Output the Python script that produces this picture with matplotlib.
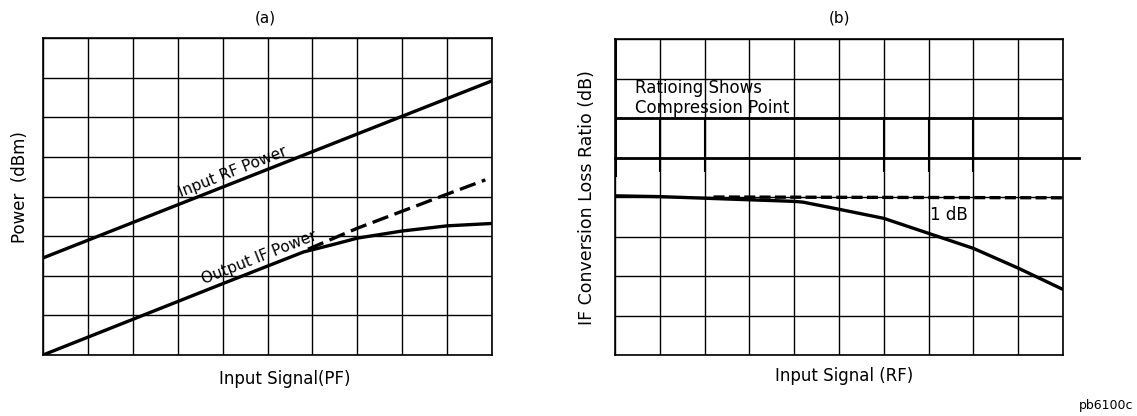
import numpy as np
import matplotlib
matplotlib.use("Agg")
from matplotlib import pyplot as plt

# (a) power curves, grid units (10 x 8 divisions)
rf_x = [0, 10]
rf_y = [2.45, 6.92]
if_x = [0, 2, 4, 5.8, 6.5, 7, 8, 9, 10]
if_y = [0, 0.9, 1.8, 2.6, 2.8, 2.95, 3.13, 3.26, 3.32]
lin_x = [5.9, 7, 8, 9, 9.85]
lin_y = [2.67, 3.2, 3.63, 4.06, 4.42]

# (b) conversion loss ratio
ratio_x = [0, 1, 2, 3, 4, 4.2, 5, 6, 7, 8, 9, 10]
ratio_y = [4.03, 4.01, 3.97, 3.93, 3.89, 3.87, 3.69, 3.46, 3.08, 2.70, 2.20, 1.66]
ref_x = [2.2, 10]
ref_y = [4.0, 3.98]

plt.rcParams["font.family"] = "DejaVu Sans"


def grid_axes(ax):
    ax.set_xlim(0, 10)
    ax.set_ylim(0, 8)
    ax.set_xticks(np.arange(0, 11))
    ax.set_yticks(np.arange(0, 9))
    ax.tick_params(length=0, labelbottom=False, labelleft=False)
    ax.grid(True, color="black", lw=1.0)
    for s in ax.spines.values():
        s.set_color("black")
        s.set_linewidth(1.2)


fig = plt.figure(figsize=(11.37, 4.16), dpi=100)

# ---- panel (a)
ax1 = fig.add_axes([0.0378, 0.1466, 0.395, 0.762])
grid_axes(ax1)
ax1.plot(rf_x, rf_y, color="black", lw=2.4, solid_capstyle="butt")
ax1.plot(if_x, if_y, color="black", lw=2.4)
ax1.plot(lin_x, lin_y, color="black", lw=2.4, dashes=(5, 2))
ax1.text(3.1, 3.9, "Input RF Power", rotation=21.5, rotation_mode="anchor",
         ha="left", va="bottom", fontsize=11)
ax1.text(3.6, 1.72, "Output IF Power", rotation=21.5, rotation_mode="anchor",
         ha="left", va="bottom", fontsize=11)

fig.text(265 / 1137, 1 - 18 / 416, "(a)", ha="center", va="center", fontsize=11)
fig.text(285 / 1137, 1 - 379 / 416, "Input Signal(PF)", ha="center", va="center", fontsize=12)
fig.text(20 / 1137, 1 - 187 / 416, "Power  (dBm)", rotation=90, ha="center", va="center", fontsize=12)

# ---- panel (b)
ax2 = fig.add_axes([0.5409, 0.1466, 0.394, 0.7596])
grid_axes(ax2)
ax2.plot([0, 10], [6, 6], color="black", lw=2.0)
ax2.plot([0, 10.35], [5, 5], color="black", lw=2.0, clip_on=False)
ax2.plot([0, 0], [4.55, 8], color="black", lw=2.2)
for xv in [1, 2, 6, 7, 8]:
    ax2.plot([xv, xv], [4.65, 6], color="black", lw=1.5)
ax2.plot(ratio_x, ratio_y, color="black", lw=2.4)
ax2.plot(ref_x, ref_y, color="black", lw=2.4, dashes=(3.3, 1.3))
ax2.text(0.45, 6.76, "Ratioing Shows", ha="left", va="center", fontsize=12)
ax2.text(0.45, 6.25, "Compression Point", ha="left", va="center", fontsize=12)
ax2.text(7.45, 3.55, "1 dB", ha="center", va="center", fontsize=12)

fig.text(840 / 1137, 1 - 18 / 416, "(b)", ha="center", va="center", fontsize=11)
fig.text(844 / 1137, 1 - 376 / 416, "Input Signal (RF)", ha="center", va="center", fontsize=12)
fig.text(587 / 1137, 1 - 198 / 416, "IF Conversion Loss Ratio (dB)", rotation=90,
         ha="center", va="center", fontsize=12.5)
fig.text(1133 / 1137, 1 - 405 / 416, "pb6100c", ha="right", va="center", fontsize=9)

fig.savefig("out.png", dpi=100, facecolor="white")
